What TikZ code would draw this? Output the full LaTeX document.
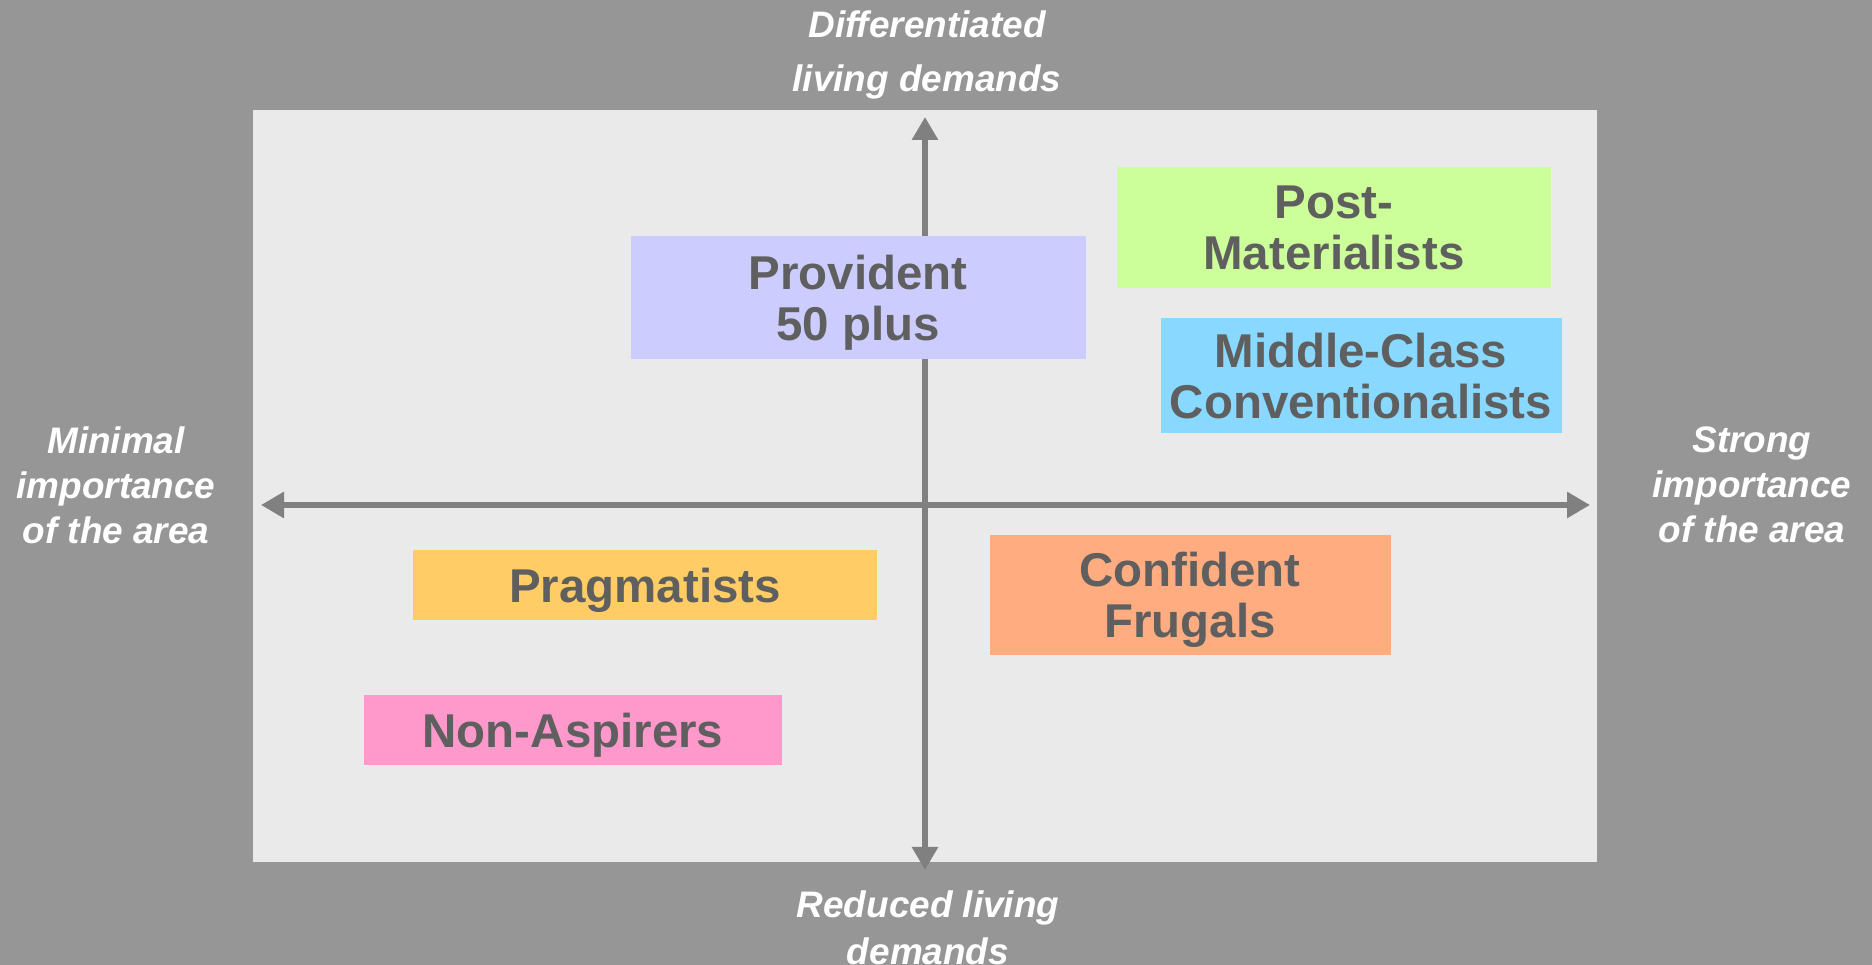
\documentclass[tikz,border=0pt]{standalone}
\usepackage{fontspec}
\setmainfont{Liberation Sans}
\usepackage{tikz}
\usetikzlibrary{arrows.meta}

\definecolor{bggray}{HTML}{969696}
\definecolor{panelgray}{HTML}{EAEAEA}
\definecolor{axisgray}{HTML}{808080}
\definecolor{boxtext}{HTML}{5F5F5F}
\definecolor{provcol}{HTML}{CCCCFF}
\definecolor{postcol}{HTML}{CCFF99}
\definecolor{midcol}{HTML}{88D8FF}
\definecolor{pragcol}{HTML}{FFCC66}
\definecolor{confcol}{HTML}{FFAD80}
\definecolor{noncol}{HTML}{FF99CC}

\tikzset{
  group/.style={inner sep=0pt, align=center, text=boxtext, text depth=-0.5pt,
    font=\fontsize{13.5}{14.5}\selectfont\bfseries},
  axislabel/.style={inner sep=0pt, align=center, text=white,
    font=\fontsize{10.5}{12.8}\selectfont\bfseries\itshape},
  axisline/.style={axisgray, line width=1.7pt,
    {Triangle[width=0.25cm,length=0.23cm]}-{Triangle[width=0.25cm,length=0.23cm]}}
}

\begin{document}
\begin{tikzpicture}
    \fill[bggray] (0,0) rectangle (18.72,-9.65);
    \useasboundingbox (0,0) rectangle (18.72,-9.65);
    \fill[panelgray] (2.53,-1.10) rectangle (15.97,-8.62);

    % axes
    \coordinate (top) at (9.25,-1.17);
    \coordinate (bottom) at (9.25,-8.70);
    \coordinate (left) at (2.61,-5.05);
    \coordinate (right) at (15.90,-5.05);
    \draw[axisline] (bottom) -- (top);
    \draw[axisline] (left) -- (right);

    % axis labels
    \node[axislabel, font=\fontsize{10.5}{15.3}\selectfont\bfseries\itshape] (diff) at (9.27,-0.55) {Differentiated\\living demands};
    \node[axislabel, font=\fontsize{10.5}{13.3}\selectfont\bfseries\itshape] (reduced) at (9.28,-9.28) {Reduced living\\demands};
    \node[axislabel] (minimal) at (1.16,-4.85) {Minimal\\importance\\of the area};
    \node[axislabel] (strong) at (17.52,-4.85) {Strong\\importance\\of the area};

    % groups
    \node[group, fill=provcol, minimum width=4.55cm, minimum height=1.23cm] (provident) at (8.58,-2.98) {Provident\\50 plus};
    \node[group, fill=postcol, minimum width=4.34cm, minimum height=1.21cm] (postmat) at (13.34,-2.28) {Post-\\Materialists};
    \node[group, fill=midcol, minimum width=4.01cm, minimum height=1.15cm] (middle) at (13.61,-3.76) {Middle-Class\\Conventionalists};
    \node[group, fill=pragcol, minimum width=4.64cm, minimum height=0.70cm] (pragmatists) at (6.45,-5.85) {Pragmatists};
    \node[group, fill=confcol, minimum width=4.01cm, minimum height=1.20cm] (frugals) at (11.90,-5.95) {Confident\\Frugals};
    \node[group, fill=noncol, minimum width=4.18cm, minimum height=0.70cm] (nonasp) at (5.73,-7.30) {Non-Aspirers};
\end{tikzpicture}
\end{document}
